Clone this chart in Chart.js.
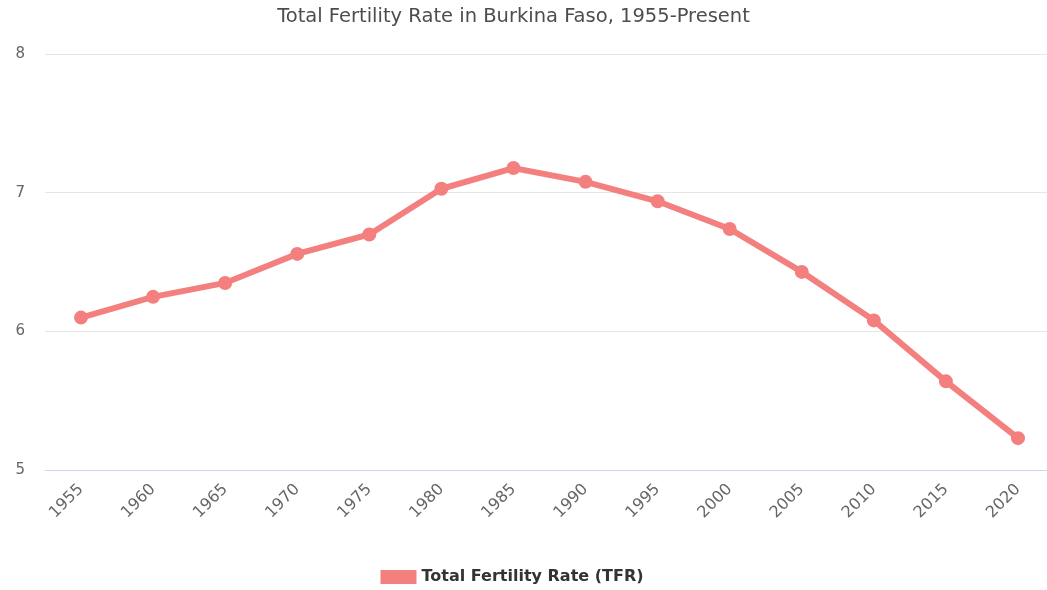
<!DOCTYPE html>
<html>
<head>
<meta charset="utf-8">
<script src="https://cdn.jsdelivr.net/npm/chart.js@4"></script>
<style>
  html, body { margin: 0; padding: 0; background: #fff; overflow: hidden; }
  #tfrChart { display: block; }
</style>
</head>
<body>
<canvas id="tfrChart" width="1047" height="590" style="width:1047px;height:590px"></canvas>
<script>
const years = ['1955', '1960', '1965', '1970', '1975', '1980', '1985', '1990', '1995', '2000', '2005', '2010', '2015', '2020'];
const tfrValues = [6.10, 6.25, 6.35, 6.56, 6.70, 7.03, 7.18, 7.08, 6.94, 6.74, 6.43, 6.08, 5.64, 5.23];
const yTicks = [5, 6, 7, 8];

const lineColor = '#f47f7f';
const fontFamily = 'DejaVu Sans';

// the original plot runs to the right edge: first point 36px in, last point 29px from the edge;
// title and legend sit a bit left of the canvas centre
const fitLayout = {
  id: 'fitLayout',
  afterLayout(chart) {
    const area = chart.chartArea, x = chart.scales.x;
    area.right = chart.width;
    area.width = area.right - area.left;
    x.right = chart.width;
    x.width = x.right - x.left;

    const dx = -10;
    [chart.titleBlock, chart.legend].forEach(b => {
      if (!b) return;
      b.left += dx;
      b.right += dx;
    });
    chart.legend.top += 5;
    chart.legend.bottom += 5;
  },
  beforeDatasetsUpdate(chart) {
    const x = chart.scales.x;
    const w = x.width, left = 36, right = 29;
    const steps = years.length - 1;
    x._startPixel = x.left;
    x._length = w;
    x._valueRange = steps * w / (w - left - right);
    x._startValue = -left * x._valueRange / w;
  }
};

new Chart(document.getElementById('tfrChart'), {
  type: 'line',
  data: {
    labels: years,
    datasets: [{
      label: 'Total Fertility Rate (TFR)',
      data: tfrValues,
      borderColor: lineColor,
      backgroundColor: lineColor,
      borderWidth: 6,
      pointRadius: 4,
      pointHoverRadius: 5,
      tension: 0
    }]
  },
  options: {
    responsive: false,
    animation: false,
    layout: { padding: 0 },
    scales: {
      x: {
        offset: true,
        grid: { display: false, drawTicks: false },
        border: { color: '#ccd6eb', width: 1 },
        ticks: {
          minRotation: 45,
          maxRotation: 45,
          padding: 10,
          color: '#666',
          font: { family: fontFamily, size: 16 }
        },
        afterFit(scale) { scale.height = 92; }
      },
      y: {
        min: 5,
        max: 8,
        afterBuildTicks(scale) { scale.ticks = yTicks.map(v => ({ value: v })); },
        grid: { color: '#e6e6e6', drawTicks: false },
        border: { display: false },
        ticks: {
          padding: 20,
          color: '#666',
          font: { family: fontFamily, size: 15 }
        },
        afterFit(scale) { scale.width = 45; }
      }
    },
    plugins: {
      title: {
        display: true,
        text: 'Total Fertility Rate in Burkina Faso, 1955-Present',
        color: '#4d4d4d',
        font: { family: fontFamily, size: 19.5, weight: 'normal' },
        padding: { top: 5, bottom: 26 }
      },
      legend: {
        position: 'bottom',
        labels: {
          boxWidth: 30,
          boxHeight: 8,
          padding: 2,
          color: '#333',
          font: { family: fontFamily, size: 16, weight: 'bold' }
        }
      },
      tooltip: { enabled: false }
    }
  },
  plugins: [fitLayout]
});
</script>
</body>
</html>
